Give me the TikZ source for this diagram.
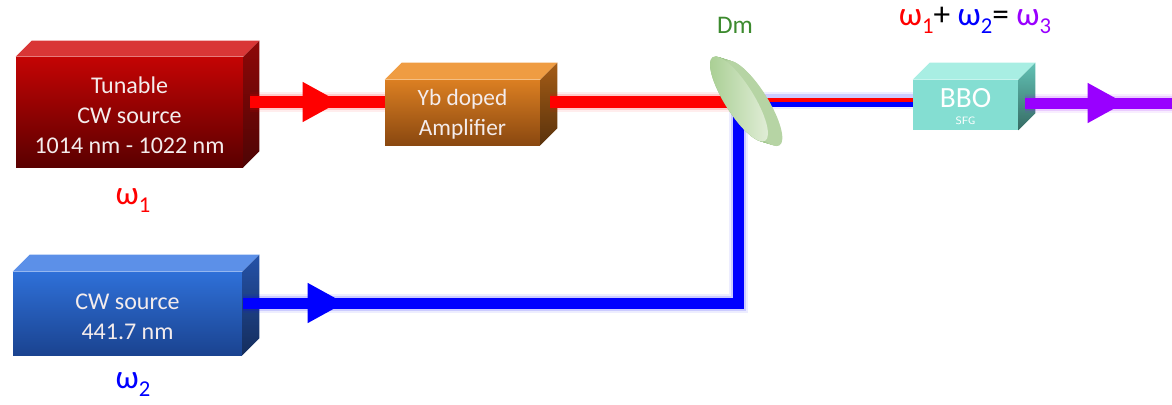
\documentclass[tikz,border=0pt]{standalone}
\usepackage{fontspec}
\setmainfont{Carlito}
\usetikzlibrary{decorations.markings,arrows.meta}

\definecolor{redtop}{HTML}{C40404}
\definecolor{redbot}{HTML}{5A0000}
\definecolor{redlid}{HTML}{D93636}
\definecolor{redside}{HTML}{8E0808}
\definecolor{amptop}{HTML}{DB7F22}
\definecolor{ampbot}{HTML}{8A4810}
\definecolor{amplid}{HTML}{EF9C42}
\definecolor{ampside}{HTML}{A45C16}
\definecolor{bluetop}{HTML}{2F70D8}
\definecolor{bluebot}{HTML}{1A4390}
\definecolor{bluelid}{HTML}{5C90E8}
\definecolor{blueside}{HTML}{2552A8}
\definecolor{bbofront}{HTML}{84DED2}
\definecolor{bbolid}{HTML}{A8EEE3}
\definecolor{bboside}{HTML}{62C2B5}
\definecolor{beamred}{HTML}{FF0000}
\definecolor{beamblue}{HTML}{0000FF}
\definecolor{beampurple}{HTML}{9900FF}
\definecolor{dmgreen}{HTML}{3C8A2E}
\definecolor{faceA}{HTML}{A6CD90}
\definecolor{faceB}{HTML}{E4EFDB}
\definecolor{rimA}{HTML}{86B770}
\definecolor{rimB}{HTML}{C8DFB8}
\definecolor{boxtext}{HTML}{F4ECEC}

% lid and right side of a box whose front face is the node #1
\newcommand\boxfaces[4]{%
  \path[fill=#3] (#1.north west) -- ++(#2,-#2) -- ([shift={(#2,-#2)}]#1.north east)
        -- (#1.north east) -- cycle;
  \path[top color=#4, bottom color=#4!55!black] (#1.north east) -- ++(#2,-#2)
        -- ([shift={(#2,-#2)}]#1.south east) -- (#1.south east) -- cycle;}

% omega with a lowered index
\newcommand\omg[2]{\textcolor{#1}{ω\raisebox{-0.5ex}{\fontsize{17}{17}\selectfont #2}}}

\tikzset{
  front/.style={rectangle, inner sep=0pt},
  boxlabel/.style={inner sep=0pt, align=center, text=boxtext,
                font=\fontsize{18}{22.5}\selectfont},
  tipat/.style 2 args={postaction={decorate}, decoration={markings,
        mark=at position #1 with {\arrow{Triangle[length=28pt,width=28pt,fill=#2]}}}},
  label/.style={font=\fontsize{25}{25}\selectfont, inner sep=0pt},
}

\begin{document}
\begin{tikzpicture}[x=0.75pt,y=-0.75pt]
\useasboundingbox (0,0) rectangle (1172,404);

% ---- boxes ----
\node[front, top color=redtop, bottom color=redbot,
      minimum width=227*0.75pt, minimum height=110*0.75pt] (src1) at (129.5,112) {};
\boxfaces{src1}{16}{redlid}{redside}
\node[boxlabel] (src1t) at ([yshift=-2.4pt]src1) {Tunable\\CW source\\1014 nm - 1022 nm};

\node[front, top color=amptop, bottom color=ampbot,
      minimum width=155*0.75pt, minimum height=65*0.75pt] (amp) at (462.5,112.5) {};
\boxfaces{amp}{17}{amplid}{ampside}
\node[boxlabel, font=\fontsize{17.5}{22.5}\selectfont] (ampt) at ([yshift=-1.5pt]amp) {Yb doped\\Amplifier};

\node[front, top color=bluetop, bottom color=bluebot,
      minimum width=229*0.75pt, minimum height=83*0.75pt] (src2) at (127.5,313.5) {};
\boxfaces{src2}{17}{bluelid}{blueside}
\node[boxlabel] (src2t) at ([yshift=-2.2pt]src2) {CW source\\441.7 nm};

\node[front, fill=bbofront,
      minimum width=105*0.75pt, minimum height=50*0.75pt] (bbo) at (965.5,105) {};
\boxfaces{bbo}{17}{bbolid}{bboside}
\node[text=white, font=\fontsize{22}{22}\selectfont, inner sep=0pt] (bbot) at (965.5,98) {BBO};
\node[text=white, font=\sffamily\fontsize{8}{8}\selectfont, inner sep=0pt] (sfg) at (965.5,121) {SFG};

% ---- beam end points ----
\coordinate (r0) at (250,102);
\coordinate (r1) at (550,102);
\coordinate (dm) at (739,99);
\coordinate (b0) at (243,303);
\coordinate (bc) at (738,303);
\coordinate (mix) at (757,100);
\coordinate (p0) at (1025,103);
\coordinate (pout) at (1172,103);

% soft glow around the beams
\foreach \w/\o in {8/0.07,4/0.14}{
  \draw[beamred, opacity=\o, line width=(12+\w)*0.75pt] (r0) -- (amp.west |- r0);
  \draw[beamred, opacity=\o, line width=(12+\w)*0.75pt] (r1) -- (r1 -| dm);
  \draw[beamblue, opacity=\o, line width=(11+\w)*0.75pt] (b0) -- (bc) -- (738,112);
  \draw[beamblue, opacity=\o, line width=(9+\w)*0.75pt] (mix) -- (bbo.west |- mix);
  \draw[beampurple, opacity=\o, line width=(11+\w)*0.75pt] (p0) -- (pout);
}

% beams
\draw[beamred, line width=12*0.75pt, tipat={67.5pt}{beamred}] (r0) -- (amp.west |- r0);
\draw[beamred, line width=12*0.75pt] (r1) -- (r1 -| dm);
\draw[beamblue, line width=11*0.75pt, tipat={76.5pt}{beamblue}] (b0) -- (bc) -- (738,112);
\draw[beamred, line width=4*0.75pt] (mix) -- (bbo.west |- mix);
\draw[beamblue, line width=5*0.75pt] ([yshift=-3.4pt]mix) -- ([yshift=-3.4pt]bbo.west |- mix);
\draw[beampurple, line width=11*0.75pt, tipat={75pt}{beampurple}] (p0) -- (pout);

% ---- dichroic mirror: a tilted disc, rim first, face on top ----
\begin{scope}[shift={(dm)}]
  \foreach \k in {0,...,18}{
    \begin{scope}[shift={(0.8*\k,0.25*\k)}, rotate=-58]
      \fill[rimA!\the\numexpr 100-4*\k\relax!rimB] (0,0) ellipse [x radius=37pt, y radius=11pt];
    \end{scope}}
  \begin{scope}[rotate=-58]
    \path[left color=faceA, right color=faceB]
      (0,0) ellipse [x radius=37pt, y radius=11pt];
  \end{scope}
\end{scope}
\node[label, text=dmgreen, font=\fontsize{19}{19}\selectfont] (dmlab) at (735,25) {Dm};

% ---- frequency labels ----
\node[label] (w1) at (133,201) {\omg{beamred}{1}};
\node[label] (w2) at (133,385) {\omg{beamblue}{2}};
\node[label] (eq) at (975,20) {\omg{beamred}{1}+ \omg{beamblue}{2}= \omg{beampurple}{3}};
\end{tikzpicture}
\end{document}
